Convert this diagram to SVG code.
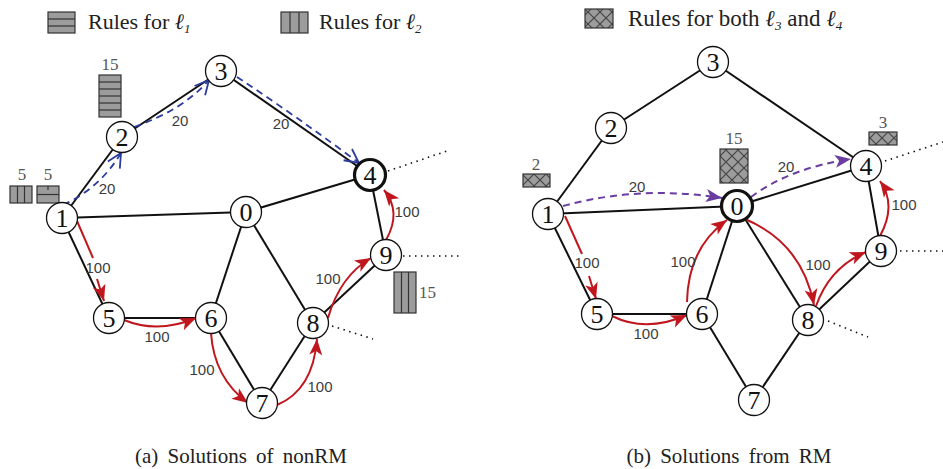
<svg xmlns="http://www.w3.org/2000/svg" width="943" height="469" viewBox="0 0 943 469">
<style>
.edge{stroke:#111;stroke-width:2;fill:none}
.dot{stroke:#111;stroke-width:1.6;fill:none;stroke-dasharray:1.5 4.5}
.node circle{fill:#fff;stroke:#111;stroke-width:1.3}
.node.thick circle{stroke-width:3.2}
.serif{font-family:'Liberation Serif','DejaVu Serif',serif}
.node text{font-size:26px;text-anchor:middle;fill:#111}
.red{stroke:#c0171f;stroke-width:2;fill:none}
.blue{stroke:#2c3c9c;stroke-width:1.8;fill:none;stroke-dasharray:7 5}
.purple{stroke:#6b3da0;stroke-width:2;fill:none;stroke-dasharray:7 5}
.lbl{font-family:'Liberation Sans','Open Sans',sans-serif;font-size:15px;fill:#3c3c3c;text-anchor:middle}
.cnt{font-size:17px;fill:#555;text-anchor:middle}
.cnt.start{text-anchor:start}
.leg{font-size:22px;fill:#222}
.leg.big{font-size:23px}
.cap{font-size:21px;fill:#222;text-anchor:middle;word-spacing:4px}
.box{fill:#9c9c9c;stroke:#333;stroke-width:1.2}
.xbox{fill:url(#xh);stroke:#333;stroke-width:1.2}
.stripe{stroke:#333;stroke-width:1.2}
</style>
<defs>
<pattern id="xh" patternUnits="userSpaceOnUse" width="12" height="12">
<rect width="12" height="12" fill="#9c9c9c"/>
<path d="M0,0 L12,12 M12,0 L0,12" stroke="#444" stroke-width="1.2" fill="none"/>
</pattern>
<marker id="ar" markerUnits="userSpaceOnUse" markerWidth="18" markerHeight="14" refX="16" refY="6.5" orient="auto" overflow="visible">
<path d="M0,0 L16,6.5 L0,13 L4,6.5 z" fill="#c0171f"/>
</marker>
<marker id="ap" markerUnits="userSpaceOnUse" markerWidth="18" markerHeight="14" refX="16" refY="6.5" orient="auto" overflow="visible">
<path d="M0,0 L16,6.5 L0,13 L4,6.5 z" fill="#6b3da0"/>
</marker>
<marker id="ab" markerUnits="userSpaceOnUse" markerWidth="18" markerHeight="14" refX="14" refY="7" orient="auto" overflow="visible">
<path d="M0,0 L14,7 L0,14" fill="none" stroke="#2c3c9c" stroke-width="1.8"/>
</marker>
</defs>

<!-- legends -->
<g id="legend-l1">
<rect class="box" x="48" y="12" width="27" height="21"/>
<line class="stripe" x1="48" y1="19" x2="75" y2="19"/>
<line class="stripe" x1="48" y1="26" x2="75" y2="26"/>
<text class="leg serif" x="88" y="29">Rules for <tspan font-style="italic">ℓ</tspan><tspan font-style="italic" font-size="13" dy="4">1</tspan></text>
</g>
<g id="legend-l2">
<rect class="box" x="281" y="12" width="27" height="21"/>
<line class="stripe" x1="290" y1="12" x2="290" y2="33"/>
<line class="stripe" x1="299" y1="12" x2="299" y2="33"/>
<text class="leg serif" x="319" y="29">Rules for <tspan font-style="italic">ℓ</tspan><tspan font-style="italic" font-size="13" dy="4">2</tspan></text>
</g>
<g id="legend-l34">
<rect class="xbox" x="585" y="9" width="28" height="19"/>
<text class="leg big serif" x="628" y="26">Rules for both <tspan font-style="italic">ℓ</tspan><tspan font-style="italic" font-size="13" dy="4">3</tspan><tspan dy="-4"> and </tspan><tspan font-style="italic">ℓ</tspan><tspan font-style="italic" font-size="13" dy="4">4</tspan></text>
</g>

<!-- connectors -->
<g id="connectors">
<!-- (a) edges -->
<line class="edge" x1="62" y1="218" x2="122" y2="137"/>
<line class="edge" x1="122" y1="137" x2="221" y2="71"/>
<line class="edge" x1="221" y1="71" x2="370" y2="175"/>
<line class="edge" x1="62" y1="218" x2="246" y2="212"/>
<line class="edge" x1="246" y1="212" x2="370" y2="175"/>
<line class="edge" x1="62" y1="218" x2="109" y2="318"/>
<line class="edge" x1="109" y1="318" x2="211" y2="318"/>
<line class="edge" x1="246" y1="212" x2="211" y2="318"/>
<line class="edge" x1="246" y1="212" x2="313" y2="323"/>
<line class="edge" x1="211" y1="318" x2="262" y2="403"/>
<line class="edge" x1="262" y1="403" x2="313" y2="323"/>
<line class="edge" x1="313" y1="323" x2="386" y2="255"/>
<line class="edge" x1="386" y1="255" x2="370" y2="175"/>
<line class="dot" x1="388" y1="171" x2="447" y2="151"/>
<line class="dot" x1="403" y1="256" x2="460" y2="256"/>
<line class="dot" x1="332" y1="326" x2="373" y2="339"/>
<!-- (b) edges -->
<line class="edge" x1="548" y1="214" x2="611" y2="128"/>
<line class="edge" x1="611" y1="128" x2="713" y2="62"/>
<line class="edge" x1="713" y1="62" x2="866" y2="166"/>
<line class="edge" x1="548" y1="214" x2="737" y2="206"/>
<line class="edge" x1="737" y1="206" x2="866" y2="166"/>
<line class="edge" x1="548" y1="214" x2="597" y2="314"/>
<line class="edge" x1="597" y1="314" x2="702" y2="314"/>
<line class="edge" x1="737" y1="206" x2="702" y2="314"/>
<line class="edge" x1="737" y1="206" x2="808" y2="320"/>
<line class="edge" x1="702" y1="314" x2="754" y2="400"/>
<line class="edge" x1="754" y1="400" x2="808" y2="320"/>
<line class="edge" x1="808" y1="320" x2="881" y2="251"/>
<line class="edge" x1="881" y1="251" x2="866" y2="166"/>
<line class="dot" x1="885" y1="161" x2="943" y2="142"/>
<line class="dot" x1="900" y1="251" x2="943" y2="251"/>
<line class="dot" x1="828" y1="321" x2="868" y2="337"/>

<!-- (a) flows -->
<path class="blue" d="M63,205 Q100,188 121,153" marker-end="url(#ab)"/>
<path class="blue" d="M134,127 Q183,110 209,80" marker-end="url(#ab)"/>
<path class="blue" d="M237,77 Q296,116 359,163" marker-end="url(#ab)"/>
<path class="red" d="M77,221 L93,258"/>
<path class="red" d="M97,279 L104,301" marker-end="url(#ar)"/>
<path class="red" d="M124,320 Q158,334 196,318" marker-end="url(#ar)"/>
<path class="red" d="M211,333 Q214,378 248,403" marker-end="url(#ar)"/>
<path class="red" d="M277,405 Q313,390 317,339" marker-end="url(#ar)"/>
<path class="red" d="M328,318 Q340,276 371,258" marker-end="url(#ar)"/>
<path class="red" d="M386,240 Q402,212 384,190" marker-end="url(#ar)"/>

<!-- (b) flows -->
<path class="purple" d="M563,206 Q640,185 722,198" marker-end="url(#ap)"/>
<path class="purple" d="M751,197 Q790,168 851,159" marker-end="url(#ap)"/>
<path class="red" d="M565,216 L582,254"/>
<path class="red" d="M589,276 L596,299" marker-end="url(#ar)"/>
<path class="red" d="M612,316 Q646,333 687,315" marker-end="url(#ar)"/>
<path class="red" d="M687,302 Q688,248 727,220" marker-end="url(#ar)"/>
<path class="red" d="M745,219 Q802,243 814,305" marker-end="url(#ar)"/>
<path class="red" d="M816,306 Q830,267 866,252" marker-end="url(#ar)"/>
<path class="red" d="M880,236 Q897,205 880,181" marker-end="url(#ar)"/>
</g>

<!-- edge labels -->
<g id="labels">
<text class="lbl" x="107" y="194">20</text>
<text class="lbl" x="180" y="126">20</text>
<text class="lbl" x="281" y="129">20</text>
<text class="lbl" x="98" y="273">100</text>
<text class="lbl" x="157" y="342">100</text>
<text class="lbl" x="202" y="375">100</text>
<text class="lbl" x="320" y="392">100</text>
<text class="lbl" x="328" y="284">100</text>
<text class="lbl" x="407" y="217">100</text>
<text class="lbl" x="637" y="192">20</text>
<text class="lbl" x="786" y="172">20</text>
<text class="lbl" x="587" y="268">100</text>
<text class="lbl" x="646" y="339">100</text>
<text class="lbl" x="683" y="267">100</text>
<text class="lbl" x="818" y="270">100</text>
<text class="lbl" x="904" y="210">100</text>
</g>

<!-- rule boxes -->
<g id="rules-a">
<text class="cnt serif" x="110" y="70">15</text>
<rect class="box" x="99" y="75" width="22" height="42"/>
<line class="stripe" x1="99" y1="82" x2="121" y2="82"/>
<line class="stripe" x1="99" y1="89" x2="121" y2="89"/>
<line class="stripe" x1="99" y1="96" x2="121" y2="96"/>
<line class="stripe" x1="99" y1="103" x2="121" y2="103"/>
<line class="stripe" x1="99" y1="110" x2="121" y2="110"/>
<text class="cnt serif" x="22" y="180">5</text>
<rect class="box" x="10" y="186" width="22" height="17"/>
<line class="stripe" x1="17.5" y1="186" x2="17.5" y2="203"/>
<line class="stripe" x1="24.5" y1="186" x2="24.5" y2="203"/>
<text class="cnt serif" x="48" y="180">5</text>
<rect class="box" x="37" y="186" width="22" height="17"/>
<line class="stripe" x1="37" y1="194.5" x2="59" y2="194.5"/>
<line class="stripe" x1="48" y1="186" x2="48" y2="190"/>
<rect class="box" x="394" y="272" width="22" height="41"/>
<line class="stripe" x1="401.5" y1="272" x2="401.5" y2="313"/>
<line class="stripe" x1="408.5" y1="272" x2="408.5" y2="313"/>
<text class="cnt start serif" x="419" y="298">15</text>
</g>
<g id="rules-b">
<text class="cnt serif" x="536" y="170">2</text>
<rect class="xbox" x="523" y="174" width="27" height="13"/>
<text class="cnt serif" x="734" y="144">15</text>
<rect class="xbox" x="720" y="149" width="28" height="34"/>
<text class="cnt serif" x="883" y="128">3</text>
<rect class="xbox" x="869" y="132" width="28" height="13"/>
</g>

<!-- nodes (a) -->
<g id="a-n0" class="node"><circle cx="246" cy="212" r="15.5"/><text class="serif" x="246" y="221">0</text></g>
<g id="a-n1" class="node"><circle cx="62" cy="218" r="15.5"/><text class="serif" x="62" y="227">1</text></g>
<g id="a-n2" class="node"><circle cx="122" cy="137" r="15.5"/><text class="serif" x="122" y="146">2</text></g>
<g id="a-n3" class="node"><circle cx="221" cy="71" r="15.5"/><text class="serif" x="221" y="80">3</text></g>
<g id="a-n4" class="node thick"><circle cx="370" cy="175" r="15.5"/><text class="serif" x="370" y="184">4</text></g>
<g id="a-n5" class="node"><circle cx="109" cy="318" r="15.5"/><text class="serif" x="109" y="327">5</text></g>
<g id="a-n6" class="node"><circle cx="211" cy="318" r="15.5"/><text class="serif" x="211" y="327">6</text></g>
<g id="a-n7" class="node"><circle cx="262" cy="403" r="15.5"/><text class="serif" x="262" y="412">7</text></g>
<g id="a-n8" class="node"><circle cx="313" cy="323" r="15.5"/><text class="serif" x="313" y="332">8</text></g>
<g id="a-n9" class="node"><circle cx="386" cy="255" r="15.5"/><text class="serif" x="386" y="264">9</text></g>

<!-- nodes (b) -->
<g id="b-n0" class="node thick"><circle cx="737" cy="206" r="15.5"/><text class="serif" x="737" y="215">0</text></g>
<g id="b-n1" class="node"><circle cx="548" cy="214" r="15.5"/><text class="serif" x="548" y="223">1</text></g>
<g id="b-n2" class="node"><circle cx="611" cy="128" r="15.5"/><text class="serif" x="611" y="137">2</text></g>
<g id="b-n3" class="node"><circle cx="713" cy="62" r="15.5"/><text class="serif" x="713" y="71">3</text></g>
<g id="b-n4" class="node"><circle cx="866" cy="166" r="15.5"/><text class="serif" x="866" y="175">4</text></g>
<g id="b-n5" class="node"><circle cx="597" cy="314" r="15.5"/><text class="serif" x="597" y="323">5</text></g>
<g id="b-n6" class="node"><circle cx="702" cy="314" r="15.5"/><text class="serif" x="702" y="323">6</text></g>
<g id="b-n7" class="node"><circle cx="754" cy="400" r="15.5"/><text class="serif" x="754" y="409">7</text></g>
<g id="b-n8" class="node"><circle cx="808" cy="320" r="15.5"/><text class="serif" x="808" y="329">8</text></g>
<g id="b-n9" class="node"><circle cx="881" cy="251" r="15.5"/><text class="serif" x="881" y="260">9</text></g>

<!-- captions -->
<text class="cap serif" x="241" y="463">(a) Solutions of nonRM</text>
<text class="cap serif" x="729" y="463">(b) Solutions from RM</text>
</svg>
